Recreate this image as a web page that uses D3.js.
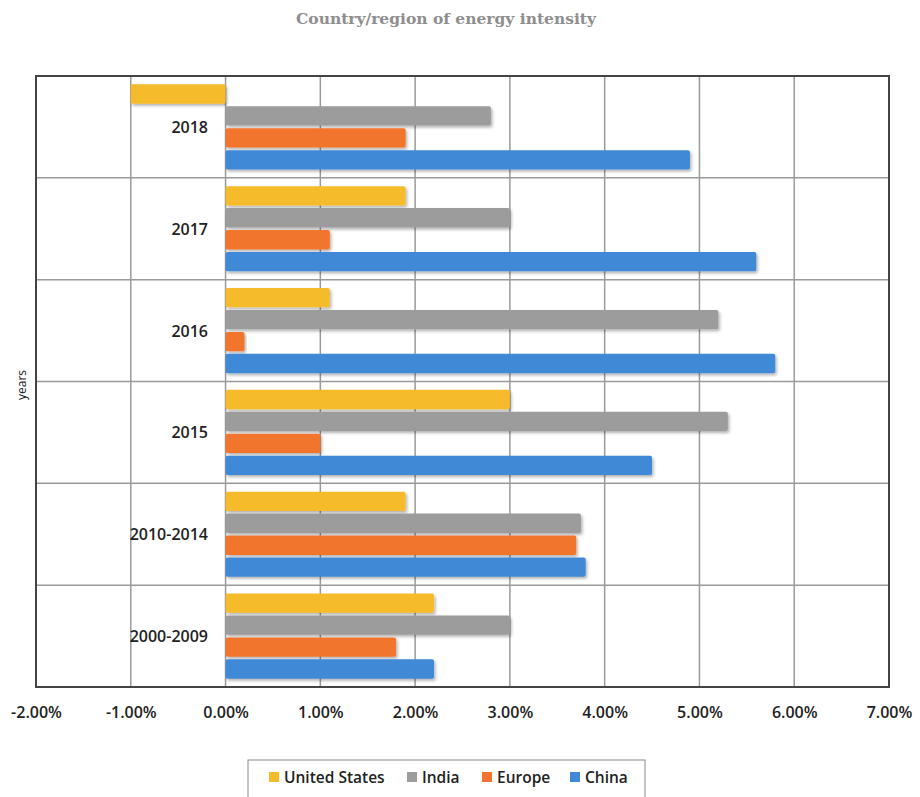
<!DOCTYPE html>
<html>
<head>
<meta charset="utf-8">
<script src="https://cdn.jsdelivr.net/npm/d3@7/dist/d3.min.js"></script>
<style>
  html, body { margin: 0; padding: 0; background: #fff; }
  svg { display: block; }
</style>
</head>
<body>
<svg id="chart" width="920" height="797"></svg>
<script>
// Period categories, top to bottom
const categories = ["2018", "2017", "2016", "2015", "2010-2014", "2000-2009"];
// Series names, in order within each group (top to bottom)
const seriesNames = ["United States", "India", "Europe", "China"];
// Energy intensity change (%) per period
const unitedStates = [-1.0, 1.9, 1.1, 3.0, 1.9, 2.2];
const india        = [2.8, 3.0, 5.2, 5.3, 3.75, 3.0];
const europe       = [1.9, 1.1, 0.2, 1.0, 3.7, 1.8];
const china        = [4.9, 5.6, 5.8, 4.5, 3.8, 2.2];
// Value axis ticks
const xTicks = [-2, -1, 0, 1, 2, 3, 4, 5, 6, 7];

const seriesValues = [unitedStates, india, europe, china];
const colors = ["#F6BB2A", "#9C9C9C", "#F2742E", "#4189D6"];
const sans = "'Open Sans', 'Noto Sans', sans-serif";

const svg = d3.select("#chart");
const margin = { left: 36, right: 31, top: 76, bottom: 110 };
const W = 920, H = 797;
const plotW = W - margin.left - margin.right;
const plotH = H - margin.top - margin.bottom;

const defs = svg.append("defs");
const f = defs.append("filter").attr("id", "shadow")
  .attr("x", "-5%").attr("y", "-30%").attr("width", "115%").attr("height", "180%");
f.append("feDropShadow").attr("dx", 1.5).attr("dy", 2).attr("stdDeviation", 1.5)
  .attr("flood-color", "#000").attr("flood-opacity", 0.3);

const x = d3.scaleLinear().domain([-2, 7]).range([margin.left, margin.left + plotW]);
const y = d3.scaleBand().domain(categories).range([margin.top, margin.top + plotH]);
const yInner = d3.scaleBand().domain(seriesNames).range([0, y.bandwidth()])
  .paddingInner(0.12).paddingOuter(0.38);

// Title
svg.append("text")
  .attr("x", 446).attr("y", 24)
  .attr("text-anchor", "middle")
  .attr("font-family", "'DejaVu Serif', 'Liberation Serif', serif")
  .attr("font-weight", "bold")
  .attr("font-size", 15.5)
  .attr("fill", "#8e8e8e")
  .text("Country/region of energy intensity");

// Vertical gridlines
svg.append("g").selectAll("line").data(xTicks).join("line")
  .attr("x1", d => x(d)).attr("x2", d => x(d))
  .attr("y1", margin.top).attr("y2", margin.top + plotH)
  .attr("stroke", "#9a9a9a").attr("stroke-width", 1.5);

// Horizontal band separators
svg.append("g").selectAll("line").data(categories.slice(1)).join("line")
  .attr("x1", margin.left).attr("x2", margin.left + plotW)
  .attr("y1", d => y(d)).attr("y2", d => y(d))
  .attr("stroke", "#9a9a9a").attr("stroke-width", 1.5);

// Bars
const groups = svg.append("g").selectAll("g").data(categories).join("g")
  .attr("transform", d => `translate(0,${y(d)})`);

groups.selectAll("rect")
  .data((c, i) => seriesNames.map((s, k) => ({ s, k, v: seriesValues[k][i] })))
  .join("rect")
  .attr("x", d => x(Math.min(0, d.v)))
  .attr("width", d => Math.abs(x(d.v) - x(0)))
  .attr("y", d => yInner(d.s))
  .attr("height", yInner.bandwidth())
  .attr("rx", 2)
  .attr("fill", d => colors[d.k])
  .attr("filter", "url(#shadow)");

// Frame
svg.append("rect")
  .attr("x", margin.left).attr("y", margin.top)
  .attr("width", plotW).attr("height", plotH)
  .attr("fill", "none").attr("stroke", "#444").attr("stroke-width", 2);

// Category labels
svg.append("g").selectAll("text").data(categories).join("text")
  .attr("x", 208)
  .attr("y", d => y(d) + y.bandwidth() / 2 + 6)
  .attr("text-anchor", "end")
  .attr("font-family", sans)
  .attr("font-weight", 600)
  .attr("font-size", 16)
  .attr("fill", "#222")
  .text(d => d);

// X axis labels
const xAxis = d3.axisBottom(x).tickValues(xTicks)
  .tickFormat(d => d.toFixed(2) + "%").tickSize(0).tickPadding(0);
const gx = svg.append("g")
  .attr("transform", `translate(0,${margin.top + plotH + 20})`)
  .call(xAxis);
gx.select(".domain").remove();
gx.selectAll("text")
  .attr("font-family", sans)
  .attr("font-size", 16)
  .attr("font-weight", 600)
  .attr("fill", "#222");

// Y axis title
svg.append("text")
  .attr("transform", `translate(26,385) rotate(-90)`)
  .attr("text-anchor", "middle")
  .attr("font-family", sans)
  .attr("font-size", 12)
  .attr("fill", "#222")
  .text("years");

// Legend
const lg = svg.append("g");
lg.append("rect")
  .attr("x", 248).attr("y", 760).attr("width", 397).attr("height", 40)
  .attr("fill", "#fff").attr("stroke", "#8a8a8a").attr("stroke-width", 1);
const legendX = [269, 407, 482, 570];
seriesNames.forEach((s, k) => {
  lg.append("rect")
    .attr("x", legendX[k]).attr("y", 772).attr("width", 10).attr("height", 10)
    .attr("fill", colors[k]);
  lg.append("text")
    .attr("x", legendX[k] + 15).attr("y", 783)
    .attr("font-family", sans)
    .attr("font-weight", 600)
    .attr("font-size", 15.5)
    .attr("fill", "#222")
    .text(s);
});
</script>
</body>
</html>
